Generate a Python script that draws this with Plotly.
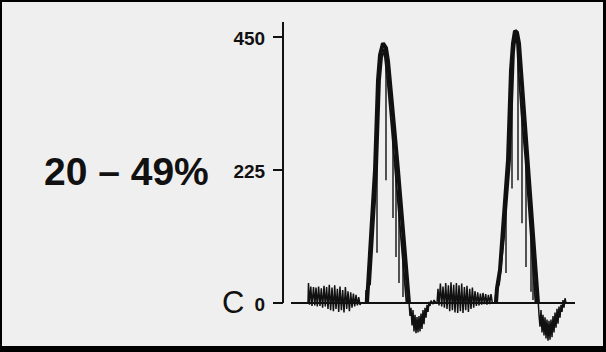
import plotly.graph_objects as go

W, H = 606, 352

# ---- data (time in sample units, amplitude in axis units) ----
tick_vals = [0, 225, 450]
tick_text = ["0", "225", "450"]
title_text = "20 – 49%"
corner_label = "C"

noise1_t = [25, 25.5, 26.5, 27.8, 29, 30.5, 31.8, 33, 34.3, 35.6, 37, 38.3, 39.6, 41, 42.3, 43.6, 45,
            46.3, 47.6, 49, 50.4, 51.7, 53, 54.4, 55.7, 57, 58.4, 59.7, 61, 62.4, 63.7, 65, 66.4, 67.7,
            69, 70.4, 71.7, 73, 74.4, 75.7, 77, 78, 82.5, 83, 84]
noise1_v = [0, 34, -3, 28, -5, 27, -4, 26, -6, 28, -5, 25, -8, 29, -6, 27, -10,
            31, -12, 26, -14, 30, -10, 24, -15, 28, -12, 22, -16, 27, -10, 20, -14, 18,
            -8, 16, -6, 14, -4, 10, -3, 0, 0, 22, 12]

peak1_t = [84, 85, 86, 89, 92, 95, 97, 100, 103, 105, 107, 111, 115, 119, 122, 124, 126]
peak1_v = [0, 25, 56, 140, 225, 377, 420, 440, 432, 410, 377, 300, 225, 140, 80, 50, 0]
peak1b_t = [87, 91, 94, 97, 99, 101, 102.5, 104.5, 108.5, 112.5, 116.5, 119.5, 123.5]
peak1b_v = [30, 140, 225, 377, 415, 430, 410, 377, 300, 225, 140, 80, 0]

dip1_t = [126, 127, 128, 129, 130, 131, 132, 133, 134, 135, 136, 137, 138, 139, 140, 141, 142,
          143, 144, 145, 146, 147, 148, 150, 151, 153, 154]
dip1_v = [0, -22, -8, -38, -12, -48, -20, -51, -24, -50, -22, -48, -18, -44, -12, -36, -8,
          -25, -3, -15, 2, -5, 4, -2, 5, 0, 0]

noise2_t = [154, 155, 156, 157.4, 158.7, 160, 161.4, 162.7, 164, 165.4, 166.7, 168, 169.4, 170.7,
            172, 173.4, 174.7, 176, 177.4, 178.7, 180, 181.4, 182.7, 184, 185.4, 186.7, 188, 189.4,
            190.7, 192, 193.4, 194.7, 196, 197.4, 198.7, 200, 201.4, 202.7, 204, 205.4, 206.7, 208,
            209.4, 212, 212.5, 213]
noise2_v = [0, 24, -4, 33, -6, 28, -8, 34, -10, 30, -14, 35, -12, 31, -16, 34, -17, 30, -14, 33,
            -17, 27, -12, 29, -15, 24, -10, 26, -8, 20, -5, 18, -4, 16, -3, 17, -2, 15, -3, 14, -2,
            15, 0, 0, 14, 6]

peak2_t = [213, 214, 217, 221, 225, 228, 230, 232, 234, 236, 238, 241, 245, 249, 252, 253.5, 255]
peak2_v = [0, 25, 56, 150, 242, 394, 440, 461, 458, 440, 394, 320, 242, 150, 80, 50, 0]
peak2b_t = [216, 221, 227, 229, 231, 232.5, 234, 235.5, 238.5, 242.5, 246.5, 249.5, 252.5]
peak2b_v = [30, 110, 240, 350, 425, 450, 440, 394, 320, 242, 150, 80, 0]

dip2_t = [255, 256, 257, 258, 259, 260, 261, 262, 263, 264, 265, 266, 267, 268, 269, 270, 271,
          272, 273, 274, 275, 276, 277, 278, 279, 280, 281, 282, 283]
dip2_v = [0, -20, -40, -12, -50, -20, -55, -24, -60, -28, -64, -30, -62, -28, -58, -22, -50,
          -16, -42, -10, -35, -6, -25, -3, -15, 5, -8, 8, 0]

# inner beat traces: (time, top, bottom)
inner_t = [94, 103, 110, 113, 116, 120, 223, 229, 235, 239, 243, 248, 250]
inner_top = [326, 432, 320, 262, 205, 120, 196, 417, 449, 370, 281, 173, 120]
inner_bot = [85, 208, 144, 78, 34, 10, 51, 194, 208, 135, 61, 19, 5]

# ---- build ----
sig_t = noise1_t + peak1_t + dip1_t + noise2_t + peak2_t + dip2_t
sig_v = noise1_v + peak1_v + dip1_v + noise2_v + peak2_v + dip2_v

pk_t = peak1_t + [None] + peak2_t
pk_v = peak1_v + [None] + peak2_v
pkb_t = peak1b_t + [None] + peak2b_t
pkb_v = peak1b_v + [None] + peak2b_v

in_t, in_v = [], []
for t, a, b in zip(inner_t, inner_top, inner_bot):
    in_t += [t, t, None]
    in_v += [a, b, None]

ink = "#111111"
bg = "#efefef"

fig = go.Figure()
fig.add_trace(go.Scatter(x=sig_t, y=sig_v, mode="lines",
                         line=dict(color=ink, width=1.5), hoverinfo="skip"))
fig.add_trace(go.Scatter(x=pk_t, y=pk_v, mode="lines",
                         line=dict(color=ink, width=4), hoverinfo="skip"))
fig.add_trace(go.Scatter(x=pkb_t, y=pkb_v, mode="lines",
                         line=dict(color=ink, width=1.8), hoverinfo="skip"))
fig.add_trace(go.Scatter(x=in_t, y=in_v, mode="lines",
                         line=dict(color=ink, width=1.4), hoverinfo="skip"))

# pixel geometry
y0_px, y450_px = 303, 37.3
s = (y450_px - y0_px) / -450.0  # px per unit
top_px, bot_px = 22, 346
yr = [-(bot_px - y0_px) / s, (y0_px - top_px) / s]

fig.update_layout(
    width=W, height=H,
    margin=dict(l=0, r=0, t=0, b=0),
    paper_bgcolor=bg, plot_bgcolor=bg,
    showlegend=False,
    xaxis=dict(domain=[291 / W, 575 / W], range=[8, 292], visible=False,
               showgrid=False, zeroline=False, fixedrange=True),
    yaxis=dict(domain=[(H - bot_px) / H, (H - top_px) / H], range=yr,
               anchor="free", position=283 / W,
               showgrid=False, showline=False,
               zeroline=True, zerolinecolor=ink, zerolinewidth=2,
               ticks="outside", ticklen=10, tickwidth=2, tickcolor=ink,
               tickvals=tick_vals, ticktext=tick_text, ticklabelstandoff=4,
               ticklabelshift=1,
               tickfont=dict(family="Liberation Sans", size=19, color=ink, weight="bold"),
               automargin=False, fixedrange=True),
    shapes=[
        # y axis line from 0 upward
        dict(type="line", xref="paper", yref="y", x0=283 / W, x1=283 / W, y0=0, y1=yr[1],
             line=dict(color=ink, width=2)),
        # frame
        dict(type="rect", xref="paper", yref="paper", x0=0, x1=2 / W, y0=0, y1=1,
             fillcolor="black", line=dict(width=0)),
        dict(type="rect", xref="paper", yref="paper", x0=1 - 3 / W, x1=1, y0=0, y1=1,
             fillcolor="black", line=dict(width=0)),
        dict(type="rect", xref="paper", yref="paper", x0=0, x1=1, y0=1 - 2 / H, y1=1,
             fillcolor="black", line=dict(width=0)),
        dict(type="rect", xref="paper", yref="paper", x0=0, x1=1, y0=0, y1=6 / H,
             fillcolor="black", line=dict(width=0)),
    ],
    annotations=[
        dict(text=title_text, xref="paper", yref="paper", x=126 / W, y=(H - 171) / H,
             xanchor="center", yanchor="middle", showarrow=False,
             font=dict(family="Liberation Sans", size=39, color=ink, weight="bold")),
        dict(text=corner_label, xref="paper", yref="paper", x=232.5 / W, y=(H - 302) / H,
             xanchor="center", yanchor="middle", showarrow=False,
             font=dict(family="Liberation Sans", size=31, color=ink)),
    ],
)

fig.write_html("out.html", config={"displayModeBar": False},
               post_script="document.body.style.margin='0';document.body.style.overflow='hidden';")
